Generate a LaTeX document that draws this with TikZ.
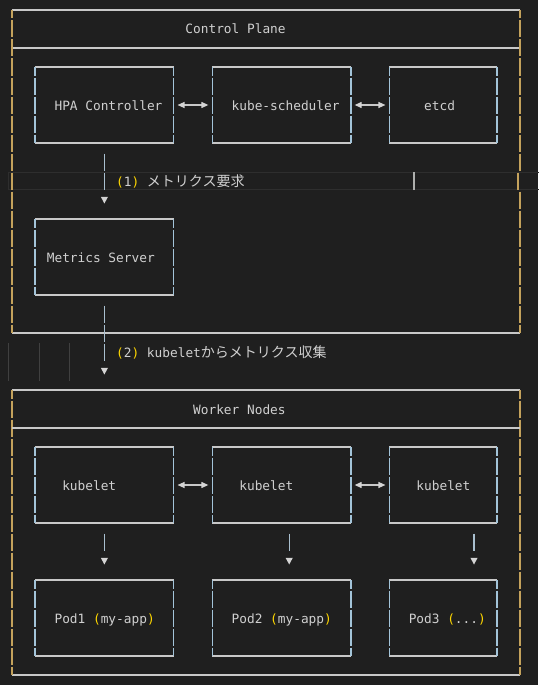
\documentclass[tikz,border=0pt]{standalone}
\usepackage{fontspec}
\setmonofont{DejaVu Sans Mono}
\newfontfamily\jpfont{Noto Sans CJK JP}
\usetikzlibrary{arrows.meta,calc}
\definecolor{bgc}{HTML}{1F1F1F}
\definecolor{bandc}{HTML}{2E2E2E}
\definecolor{txtc}{HTML}{D0D0D0}
\definecolor{parc}{HTML}{FFD700}
\definecolor{hlc}{HTML}{C8C8C8}
\definecolor{voutc}{HTML}{C4A25C}
\definecolor{vinc}{HTML}{A3C4D9}
\definecolor{connc}{HTML}{A9BFCF}
\definecolor{tric}{HTML}{D4D4D4}
\definecolor{guidec}{HTML}{404040}
\definecolor{cursorc}{HTML}{AEAFAD}
\newcommand\jp[1]{{\jpfont\fontsize{14}{15}\selectfont #1}}
\newcommand\pn[1]{\textcolor{parc}{#1}}
\newcommand\boxsides[2]{%
  \draw[hl] (#1.north west) -- (#1.north east);
  \draw[hl] (#1.south west) -- (#1.south east);
  \draw[#2] (#1.north west) -- (#1.south west);
  \draw[#2] (#1.north east) -- (#1.south east);}
% down triangle just above the target anchor #1, x offset #2
\newcommand\downtri[2]{%
  \fill[tric] ([shift={(#2-3.6,-22.2)}]#1) -- ([shift={(#2+3.6,-22.2)}]#1)
    -- ([shift={(#2,-15.5)}]#1) -- cycle;}
\tikzset{
  boxn/.style={inner sep=0pt, outer sep=0pt, draw=none},
  ibox/.style={boxn, minimum width=138.6pt, minimum height=76pt},
  sbox/.style={boxn, minimum width=107.8pt, minimum height=76pt},
  txt/.style={font=\ttfamily\fontsize{12.8}{15}\selectfont, text=txtc, inner sep=0pt, anchor=base west},
  hl/.style={draw=hlc, line width=1.1pt},
  vout/.style={draw=voutc, line width=1.4pt, dash pattern=on 17pt off 2pt, dash phase=8.5pt},
  vin/.style={draw=vinc, line width=1.4pt, dash pattern=on 17pt off 2pt, dash phase=8.5pt},
  vconn/.style={draw=connc, line width=1.4pt, dash pattern=on 17pt off 2pt, dash phase=18pt,
    shorten <=9.5pt, shorten >=28.5pt},
  harrow/.style={draw=hlc, line width=1.2pt, shorten <=3.85pt, shorten >=3.85pt,
    {Triangle[length=7pt,width=6pt,color=tric]}-{Triangle[length=7pt,width=6pt,color=tric]}}
}
\begin{document}
\begin{tikzpicture}[x=1pt,y=-1pt]
\fill[bgc] (0,0) rectangle (538,685);
\useasboundingbox (0,0) rectangle (538,685);
% current line highlight and indent guides
\draw[bandc, line width=1.2pt] (8.5,172.5) rectangle (545,189.5);
\foreach \gx in {8.15,38.95,69.75} \draw[guidec, line width=0.8pt] (\gx,343) -- (\gx,381);
\draw[cursorc, line width=1.6pt] (414,172) -- (414,190);

% outer boxes
\node[boxn, minimum width=508pt, minimum height=323pt] (cp) at (266,171.5) {};
\node[boxn, minimum width=508pt, minimum height=285pt] (wn) at (266,532.5) {};
% inner boxes
\node[ibox] (hpa) at (104.4,105) {};
\node[ibox] (sched) at (281.5,105) {};
\node[sbox] (etcd) at (443.2,105) {};
\node[ibox] (ms) at (104.4,257) {};
\node[ibox] (k1) at (104.4,485) {};
\node[ibox] (k2) at (281.5,485) {};
\node[sbox] (k3) at (443.2,485) {};
\node[ibox] (p1) at (104.4,618) {};
\node[ibox] (p2) at (281.5,618) {};
\node[sbox] (p3) at (443.2,618) {};

% control plane frame
\draw[hl] (cp.north west) -- (cp.north east);
\draw[hl] (cp.south west) -- (cp.south east);
\draw[hl] ($(cp.north west)+(0,38)$) -- ($(cp.north east)+(0,38)$);
\draw[vout] (cp.north west) -- (cp.south west);
\draw[vout] (cp.north east) -- ($(cp.north east)+(0,161.5)$);
\draw[vout, dash phase=18pt] ($(cp.north east)+(0,180.5)$) -- (cp.south east);
\draw[draw=voutc, line width=1.4pt] ($(cp.north east)+(-2,162.5)$) -- ($(cp.north east)+(-2,179.5)$);
% worker nodes frame
\boxsides{wn}{vout}
\draw[hl] ($(wn.north west)+(0,38)$) -- ($(wn.north east)+(0,38)$);

\foreach \b in {hpa,sched,etcd,ms,k1,k2,k3,p1,p2,p3} {\boxsides{\b}{vin}}

% texts
\node[txt] (cpT) at (185.25,34) {Control Plane};
\node[txt] (hpaT) at (54.35,110) {HPA Controller};
\node[txt] (schedT) at (231.45,110) {kube-scheduler};
\node[txt] (etcdT) at (423.95,110) {etcd};
\node[txt] (l1) at (115.95,186) {\pn{(}1\pn{)} \jp{メトリクス要求}};
\node[txt] (msT) at (46.65,262) {Metrics Server};
\node[txt] (l2) at (115.95,357) {\pn{(}2\pn{)} kubelet\jp{からメトリクス収集}};
\node[txt] (wnT) at (192.95,414) {Worker Nodes};
\node[txt] (k1T) at (62.05,490) {kubelet};
\node[txt] (k2T) at (239.15,490) {kubelet};
\node[txt] (k3T) at (416.25,490) {kubelet};
\node[txt] (p1T) at (54.35,623) {Pod1 \pn{(}my-app\pn{)}};
\node[txt] (p2T) at (231.45,623) {Pod2 \pn{(}my-app\pn{)}};
\node[txt] (p3T) at (408.55,623) {Pod3 \pn{(}...\pn{)}};

% connectors
\draw[harrow] (hpa.east) -- (sched.west);
\draw[harrow] (sched.east) -- (etcd.west);
\draw[harrow] (k1.east) -- (k2.west);
\draw[harrow] (k2.east) -- (k3.west);
\draw[vconn] (hpa.south) -- (ms.north);
\downtri{ms.north}{0}
\draw[vconn] (ms.south) -- (ms.south |- wn.north);
\downtri{ms.south |- wn.north}{0}
\draw[vconn] (k1.south) -- (p1.north);
\downtri{p1.north}{0}
\draw[vconn] ([xshift=7.7pt]k2.south) -- ([xshift=7.7pt]p2.north);
\downtri{p2.north}{7.7}
\draw[vconn] ([xshift=30.8pt]k3.south) -- ([xshift=30.8pt]p3.north);
\downtri{p3.north}{30.8}
\end{tikzpicture}
\end{document}
